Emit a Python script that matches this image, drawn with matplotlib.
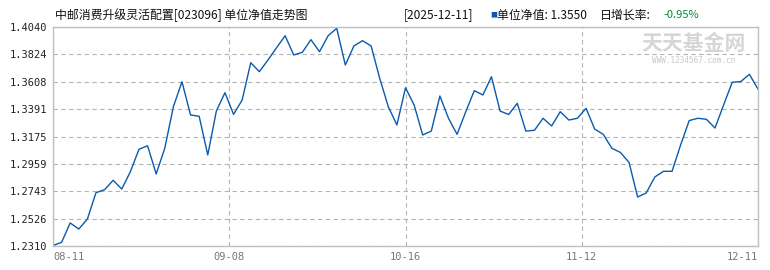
import matplotlib
matplotlib.use("Agg")
import matplotlib.pyplot as plt

plt.rcParams['font.family'] = ['Noto Sans CJK SC', 'DejaVu Sans']

# unit NAV, one point per trading day 08-11 .. 12-11
nav = [1.2314, 1.2339, 1.2492, 1.2444, 1.2523, 1.2731, 1.2755, 1.2829, 1.2760, 1.2897,
       1.3074, 1.3102, 1.2879, 1.3082, 1.3410, 1.3608, 1.3345, 1.3335, 1.3029, 1.3376,
       1.3521, 1.3350, 1.3463, 1.3758, 1.3687, 1.3779, 1.3876, 1.3971, 1.3819, 1.3840,
       1.3940, 1.3845, 1.3971, 1.4030, 1.3740, 1.3890, 1.3932, 1.3890, 1.3635, 1.3410,
       1.3266, 1.3560, 1.3424, 1.3187, 1.3218, 1.3495, 1.3319, 1.3192, 1.3369, 1.3537,
       1.3503, 1.3647, 1.3376, 1.3349, 1.3437, 1.3218, 1.3224, 1.3319, 1.3258, 1.3371,
       1.3305, 1.3319, 1.3398, 1.3234, 1.3192, 1.3082, 1.3049, 1.2970, 1.2697, 1.2729,
       1.2855, 1.2900, 1.2900, 1.3108, 1.3301, 1.3319, 1.3311, 1.3242, 1.3424, 1.3603,
       1.3609, 1.3666, 1.3550]

y_ticks = [1.2310, 1.2526, 1.2743, 1.2959, 1.3175, 1.3391, 1.3608, 1.3824, 1.4040]
x_labels = ["08-11", "09-08", "10-16", "11-12", "12-11"]

title = "中邮消费升级灵活配置[023096] 单位净值走势图"
last_date = "[2025-12-11]"
last_nav = "单位净值: 1.3550"
day_growth = "-0.95%"

W, H = 770, 270
fig = plt.figure(figsize=(W / 100, H / 100), dpi=100)
ax = fig.add_axes([53 / W, (H - 246) / H, 705 / W, 219 / H])

n = len(nav)
ax.plot(range(n), nav, color='#0a5aad', lw=1.0)

ax.set_xlim(0, n - 1)
ax.set_ylim(y_ticks[0], y_ticks[-1])
ax.set_yticks(y_ticks)
ax.set_yticklabels([f"{v:.4f}" for v in y_ticks], family='DejaVu Sans Mono', fontsize=7.5)

step = (n - 1) / 4
xt = [i * step for i in range(5)]
ax.set_xticks(xt)
ax.set_xticklabels(x_labels, fontsize=7.5, color='#777777', family='DejaVu Sans Mono')
tl = ax.get_xticklabels()
tl[0].set_ha('left')
tl[-1].set_ha('right')

ax.tick_params(length=0, pad=4)
ax.tick_params(axis='y', pad=4, colors='#222222')
ax.tick_params(axis='x', colors='#777777')
ax.grid(True, color='#b4b4b4', lw=0.8, ls=(0, (4, 3)))
for s in ax.spines.values():
    s.set_color('#c0c0c0')
    s.set_linewidth(1)

# header texts
def px(x, y):
    return x / W, 1 - y / H

fig.text(*px(55, 15), title, fontsize=8.6, va='center', ha='left', color='#111111')
fig.text(*px(404, 15), last_date, fontsize=8.6, va='center', ha='left', color='#111111')
fig.text(*px(490, 15), "■", fontsize=5, va='center', ha='left', color='#0a5aad')
fig.text(*px(497, 15), last_nav, fontsize=8.6, va='center', ha='left', color='#111111')
fig.text(*px(600, 15), "日增长率:", fontsize=8.6, va='center', ha='left', color='#111111')
fig.text(*px(663, 15), day_growth, fontsize=8, va='center', ha='left', color='#008833')

# watermark
fig.text(*px(694, 44), "天天基金网", fontsize=15, fontweight='bold', va='center', ha='center',
         color='#d6d6d6')
fig.text(*px(694, 61), "WWW.1234567.com.cn", fontsize=5.5, va='center', ha='center',
         color='#c8c8c8', family='DejaVu Sans Mono')

fig.savefig("out.png", dpi=100)
